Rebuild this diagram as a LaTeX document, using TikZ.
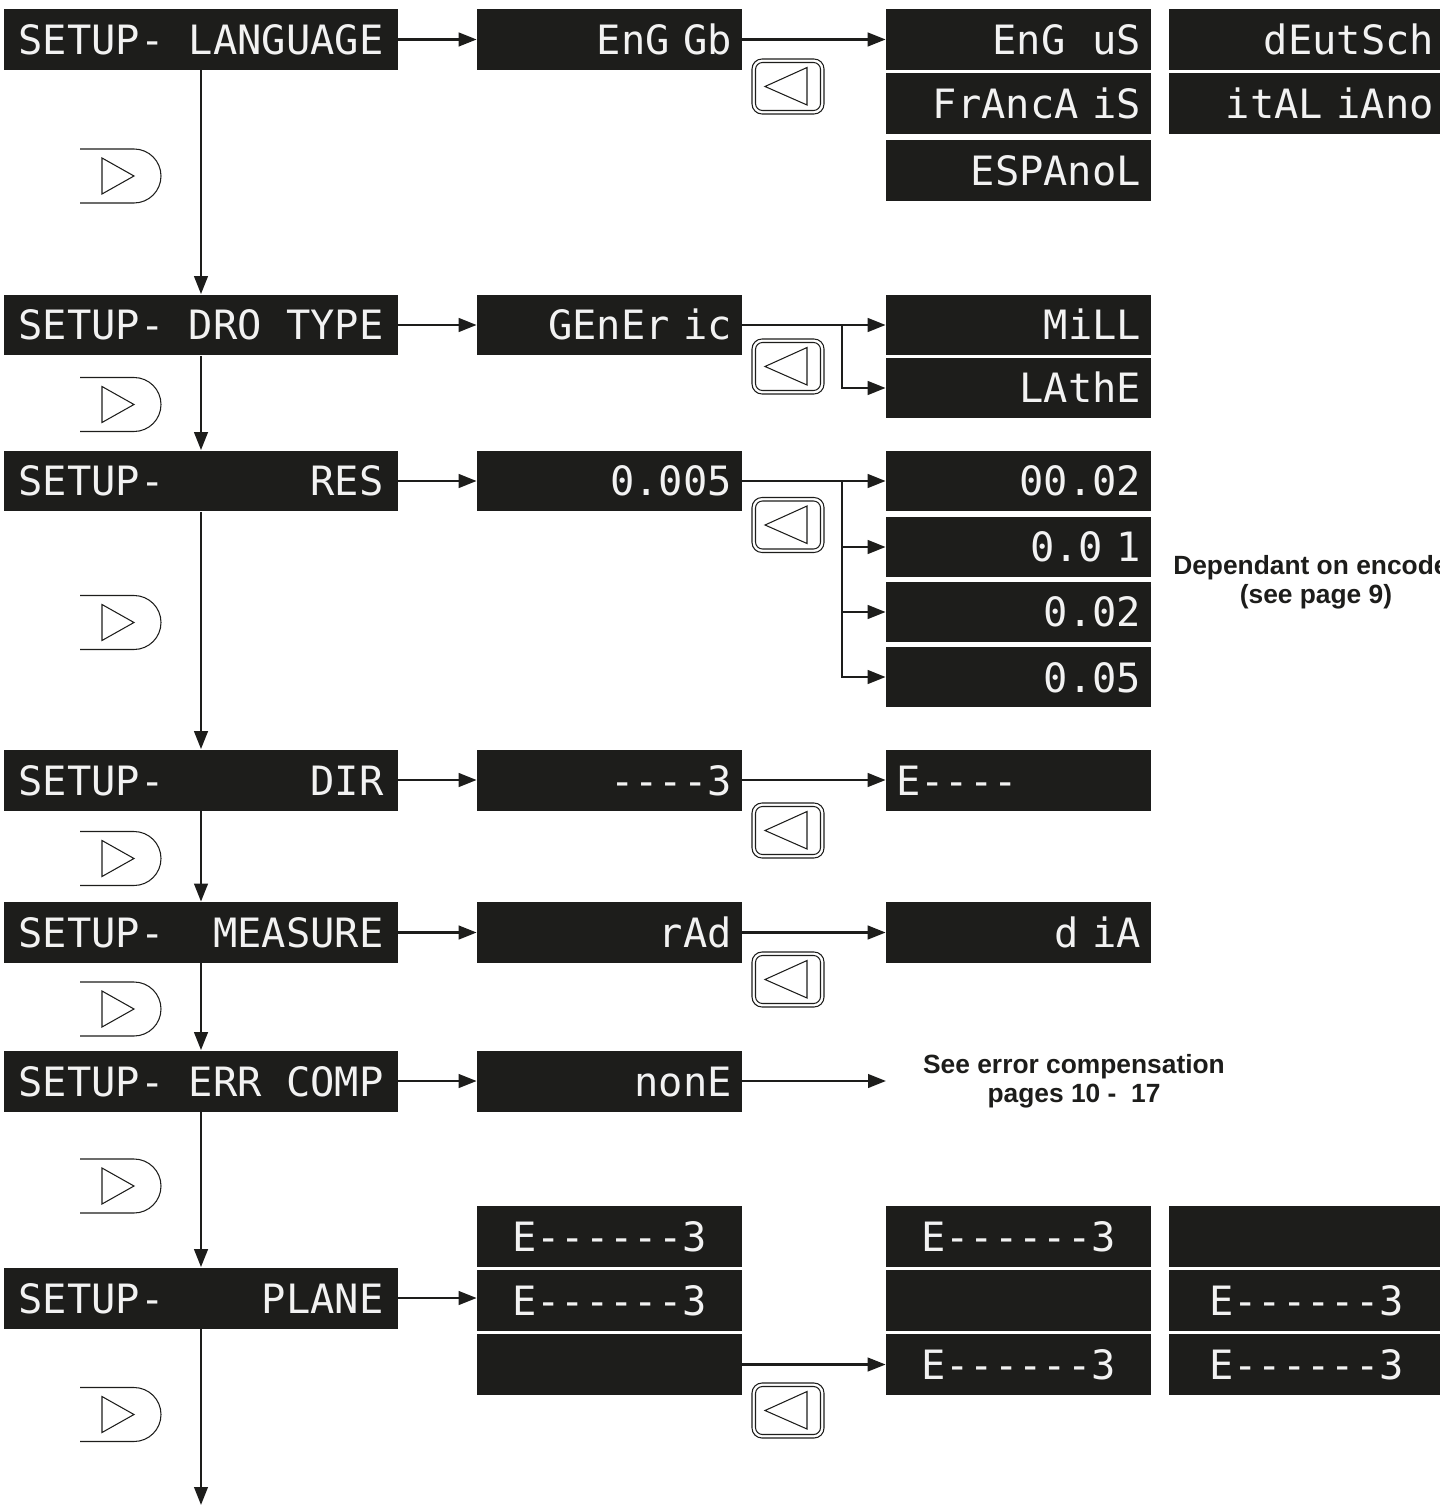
\documentclass[tikz,border=0pt]{standalone}
\usepackage{fontspec}
\usepackage{xcolor}
\usepackage{tikz}
\usetikzlibrary{arrows.meta,calc}
\newfontfamily\lcdfont{DejaVu Sans Mono}
\newfontfamily\notefont{Liberation Sans}
\definecolor{lcdbg}{HTML}{1D1D1B}
\definecolor{lcdfg}{HTML}{F2F2F2}

\begin{document}
\begin{tikzpicture}[
  x=0.02cm, y=-0.02cm,
  every node/.style={inner sep=0pt},
  lcd/.style={fill=lcdbg, text=lcdfg, font=\lcdfont\fontsize{23}{23}\selectfont,
    minimum height=1.22cm, text height=0.6cm, text depth=0cm},
  setupbox/.style={lcd, minimum width=7.88cm},
  valbox/.style={lcd, text width=4.9cm, inner xsep=0.2cm, align=right},
  valboxl/.style={valbox, align=left},
  valboxc/.style={valbox, align=center},
  edgebox/.style={lcd, text width=5.1cm, inner xsep=0.2cm, align=right},
  edgeboxc/.style={edgebox, align=center},
  note/.style={text=lcdbg, align=center, font=\notefont\bfseries\fontsize{15}{16.5}\selectfont},
  flow/.style={draw=lcdbg, line width=1.5pt, -{Triangle[length=0.36cm, width=0.27cm]}},
  keyline/.style={draw=lcdbg, line width=0.6pt}
]
\useasboundingbox (0,0) rectangle (1439,1506);

% setup menu
\node[setupbox] (lang)  at (201,39.5)  {SETUP-~LANGUAGE};
\node[setupbox] (dro)   at (201,325)   {SETUP-~DRO~TYPE};
\node[setupbox] (res)   at (201,481)   {SETUP-~~~~~~RES};
\node[setupbox] (dir)   at (201,780)   {SETUP-~~~~~~DIR};
\node[setupbox] (meas)  at (201,932.5) {SETUP-~~MEASURE};
\node[setupbox] (err)   at (201,1081)  {SETUP-~ERR~COMP};
\node[setupbox] (plane) at (201,1298)  {SETUP-~~~~PLANE};
\coordinate (out) at (201,1505);

% current values
\node[valbox] (langv) at (609.5,39.5)  {EnG~Gb};
\node[valbox] (drov)  at (609.5,325)   {GEnEr~ic};
\node[valbox] (resv)  at (609.5,481)   {0.005};
\node[valbox] (dirv)  at (609.5,780)   {----3};
\node[valbox] (measv) at (609.5,932.5) {rAd};
\node[valbox] (errv)  at (609.5,1081)  {nonE};
\node[valboxc] (p2a) at (609.5,1236.5) {E------3};
\node[valboxc] (p2b) at (609.5,1300.5) {E------3};
\node[valboxc] (p2c) at (609.5,1364.5) {};

% choices
\node[valbox] (engus) at (1018.5,39.5) {EnG~~uS};
\node[valbox] (fra)   at (1018.5,104)  {FrAncA~iS};
\node[valbox] (esp)   at (1018.5,170.5) {ESPAnoL};
\node[edgebox] (deu)  at (1306.5,39.5) {dEutSch};
\node[edgebox] (ita)  at (1306.5,104)  {itAL~iAno};
\node[valbox] (mill)  at (1018.5,325)  {MiLL};
\node[valbox] (lathe) at (1018.5,388)  {LAthE};
\node[valbox] (res1)  at (1018.5,481)  {00.02};
\node[valbox] (res2)  at (1018.5,547)  {0.0~1};
\node[valbox] (res3)  at (1018.5,612)  {0.02};
\node[valbox] (res4)  at (1018.5,677)  {0.05};
\node[valboxl] (dirl) at (1018.5,780)  {E----};
\node[valbox] (dia)   at (1018.5,932.5) {d~iA};
\node[valboxc] (p3a) at (1018.5,1236.5) {E------3};
\node[valboxc] (p3b) at (1018.5,1300.5) {};
\node[valboxc] (p3c) at (1018.5,1364.5) {E------3};
\node[edgeboxc] (p4a) at (1306.5,1236.5) {};
\node[edgeboxc] (p4b) at (1306.5,1300.5) {E------3};
\node[edgeboxc] (p4c) at (1306.5,1364.5) {E------3};

\node[note] (encnote) at (1316,582.5) {Dependant on encoder\\(see page 9)};
\node[note] (errnote) at (1074,1081.5) {See error compensation\\pages 10 -~~17};
\coordinate (errend) at (886,1081);

% down the menu
\draw[flow] (lang) -- (dro);
\draw[flow] (dro) -- (res);
\draw[flow] (res) -- (dir);
\draw[flow] (dir) -- (meas);
\draw[flow] (meas) -- (err);
\draw[flow] (err) -- (plane);
\draw[flow] (plane) -- (out);

% into the values
\foreach \a/\b in {lang/langv, dro/drov, res/resv, dir/dirv, meas/measv, err/errv}
  \draw[flow] (\a) -- (\b);
\draw[flow] (plane.east) -- (plane.east -| p2b.west);

% to the choices
\draw[flow] (langv) -- (engus);
\draw[flow] (drov) -- (mill);
\coordinate (drofork) at (842,325);
\draw[flow] (drofork) |- (lathe);
\draw[flow] (resv) -- (res1);
\coordinate (resfork) at (842,481);
\foreach \n in {res2,res3,res4}
  \draw[flow] (resfork) |- (\n);
\draw[flow] (dirv) -- (dirl);
\draw[flow] (measv) -- (dia);
\draw[flow] (errv) -- (errend);
\draw[flow] (p2c) -- (p3c);

% next keys
\foreach \ky in {176,404.5,622.5,858.5,1009,1186,1414.5} {
  \draw[keyline, rounded corners=0.54cm] (80,\ky-27) -- (161,\ky-27) -- (161,\ky+27) -- (80,\ky+27);
  \draw[keyline] (102,\ky-18) -- (102,\ky+18) -- (134,\ky) -- cycle;
}
% back keys
\foreach \ky in {86.5,366.5,525,830.5,979.5,1410.5} {
  \draw[keyline, rounded corners=0.2cm] (752,\ky-27.5) rectangle (824,\ky+27.5);
  \draw[keyline, rounded corners=0.14cm] (755.5,\ky-24) rectangle (820.5,\ky+24);
  \draw[keyline] (765,\ky) -- (807,\ky-19) -- (807,\ky+18.5) -- cycle;
}
\end{tikzpicture}
\end{document}
